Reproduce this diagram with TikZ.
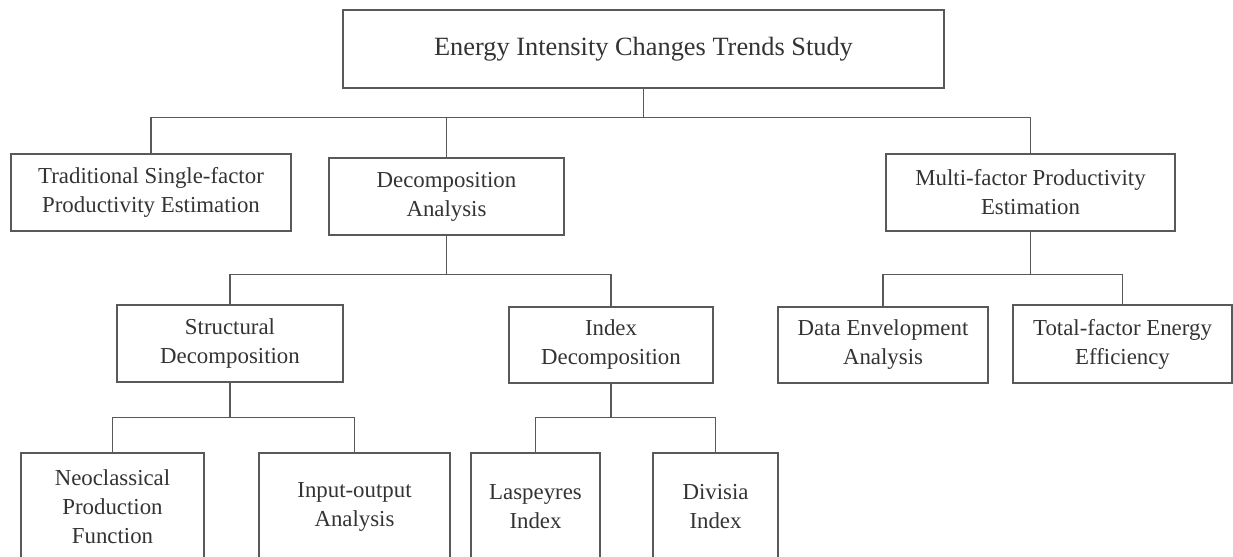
\documentclass[tikz,border=0pt]{standalone}
\usepackage{fontspec}
\setmainfont{Liberation Serif}
\begin{document}
\begin{tikzpicture}[x=0.2mm,y=-0.2mm,
  box/.style={draw=black!65,line width=0.8pt,text=black!80,align=center,inner sep=0pt,
    font=\fontsize{13}{16.5}\selectfont,minimum height=15.4mm},
  link/.style={draw=black!65,line width=0.8pt}]
\useasboundingbox (0,0) rectangle (1233,557);
\clip (0,0) rectangle (1233,557);
\node[box,minimum width=120.2mm,minimum height=15.6mm,font=\fontsize{15}{18}\selectfont] (top) at (643.5,49) {Energy Intensity Changes Trends Study};
\node[box,minimum width=56mm] (trad) at (151,192.5) {Traditional Single-factor\\Productivity Estimation};
\node[box,minimum width=47mm] (dec) at (446.5,196.5) {Decomposition\\Analysis};
\node[box,minimum width=57.8mm] (multi) at (1030.5,192.5) {Multi-factor Productivity\\Estimation};
\node[box,minimum width=45.2mm] (str) at (230,343.5) {Structural\\Decomposition};
\node[box,minimum width=40.8mm,minimum height=15.2mm] (idx) at (611,345) {Index\\Decomposition};
\node[box,minimum width=42mm,minimum height=15.2mm] (dea) at (883,345) {Data Envelopment\\Analysis};
\node[box,minimum width=43.8mm,minimum height=15.6mm] (tfee) at (1122.5,344) {Total-factor Energy\\Efficiency};
\node[box,minimum width=36.6mm,minimum height=21.6mm] (neo) at (112.5,507) {Neoclassical\\Production\\Function};
\node[box,minimum width=38.2mm,minimum height=21.6mm] (io) at (354.5,507) {Input-output\\Analysis};
\node[box,minimum width=25.8mm,minimum height=21.6mm] (las) at (535.5,507) {Laspeyres\\Index};
\node[box,minimum width=25mm,minimum height=21.6mm] (div) at (715.5,507) {Divisia\\Index};
\draw[link] (top.south) -- ++(0,29) coordinate (j1);
\draw[link] (trad.north) |- (j1) -| (multi.north);
\draw[link] (dec.north) -- (dec.north |- j1);
\draw[link] (dec.south) -- ++(0,39) coordinate (j2);
\draw[link] (str.north) |- (j2) -| (idx.north);
\draw[link] (multi.south) -- ++(0,43) coordinate (j3);
\draw[link] (dea.north) |- (j3) -| (tfee.north);
\draw[link] (str.south) -- ++(0,35) coordinate (j4);
\draw[link] (neo.north) |- (j4) -| (io.north);
\draw[link] (idx.south) -- ++(0,34) coordinate (j5);
\draw[link] (las.north) |- (j5) -| (div.north);
\end{tikzpicture}
\end{document}
